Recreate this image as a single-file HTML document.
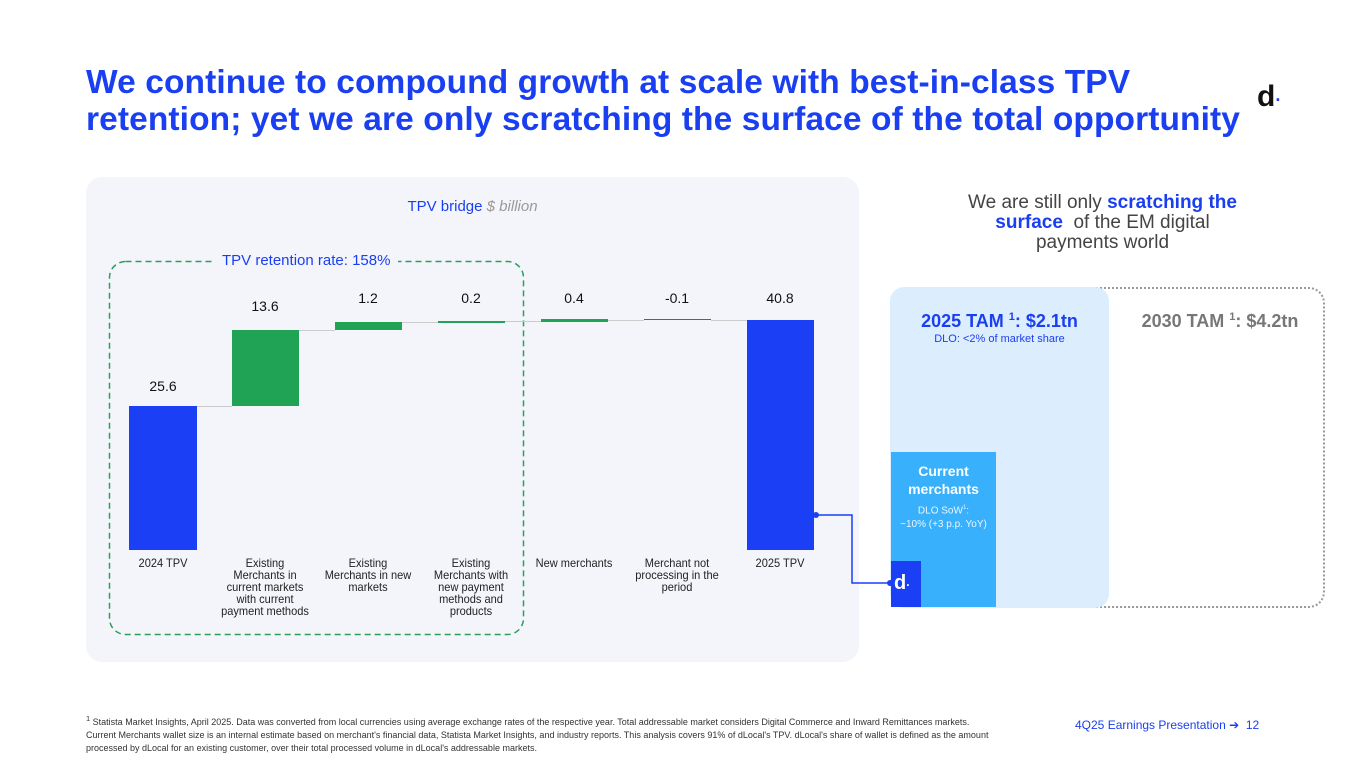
<!DOCTYPE html>
<html><head><meta charset="utf-8"><style>
*{margin:0;padding:0;box-sizing:border-box}
body{width:1365px;height:768px;background:#fff;font-family:"Liberation Sans",sans-serif;position:relative;overflow:hidden}
.a{position:absolute}
.t{color:#1a3ff0;font-size:33.5px;font-weight:bold;line-height:37px;letter-spacing:0.1px}
.lbl{font-size:12px;color:#222;text-align:center;line-height:12px;width:96px;transform:scaleX(0.92)}
.val{font-size:14px;color:#111;text-align:center;width:80px}
</style></head><body>
<div class="a t" style="left:86px;top:64px;width:1250px;white-space:nowrap">We continue to compound growth at scale with best-in-class TPV<br>retention; yet we are only scratching the surface of the total opportunity</div>
<div class="a" style="left:1257px;top:80px;font-size:30px;font-weight:bold;color:#111">d<span style="font-size:18px;color:#1a3ff0">·</span></div>

<div class="a" style="left:86px;top:177px;width:773px;height:485px;background:#f4f5fb;border-radius:16px"></div>
<div class="a" style="left:86px;top:198px;width:773px;text-align:center;font-size:15px;color:#1a3ff0">TPV bridge <i style="color:#999">$ billion</i></div>
<svg class="a" style="left:108px;top:260px" width="420" height="378"><rect x="1.5" y="1.5" width="414" height="373" rx="16" fill="none" stroke="#2ca05a" stroke-width="1.5" stroke-dasharray="6,4"/></svg>
<div class="a" style="left:214px;top:252px;background:#f4f5fb;padding:0 8px;font-size:15px;color:#1a3ff0">TPV retention rate: 158%</div>

<div class="a" style="left:129px;top:406px;width:68px;height:144px;background:#1a3ff5"></div>
<div class="a" style="left:232px;top:330px;width:67px;height:76px;background:#21a355"></div>
<div class="a" style="left:335px;top:322px;width:67px;height:8px;background:#21a355"></div>
<div class="a" style="left:438px;top:321px;width:67px;height:2px;background:#21a355"></div>
<div class="a" style="left:541px;top:319px;width:67px;height:3px;background:#21a355"></div>
<div class="a" style="left:644px;top:319px;width:67px;height:1px;background:#c0392b"></div>
<div class="a" style="left:747px;top:320px;width:67px;height:230px;background:#1a3ff5"></div>
<div class="a" style="left:197px;top:406px;width:35px;height:1px;background:#ccc"></div>
<div class="a" style="left:299px;top:330px;width:36px;height:1px;background:#ccc"></div>
<div class="a" style="left:402px;top:322px;width:36px;height:1px;background:#ccc"></div>
<div class="a" style="left:505px;top:321px;width:36px;height:1px;background:#ccc"></div>
<div class="a" style="left:608px;top:320px;width:36px;height:1px;background:#ccc"></div>
<div class="a" style="left:711px;top:320px;width:36px;height:1px;background:#ccc"></div>

<div class="a val" style="left:123px;top:378px">25.6</div>
<div class="a val" style="left:225px;top:298px">13.6</div>
<div class="a val" style="left:328px;top:290px">1.2</div>
<div class="a val" style="left:431px;top:290px">0.2</div>
<div class="a val" style="left:534px;top:290px">0.4</div>
<div class="a val" style="left:637px;top:290px">-0.1</div>
<div class="a val" style="left:740px;top:290px">40.8</div>

<div class="a lbl" style="left:115px;top:557px">2024 TPV</div>
<div class="a lbl" style="left:217px;top:557px">Existing Merchants in current markets with current payment methods</div>
<div class="a lbl" style="left:320px;top:557px">Existing Merchants in new markets</div>
<div class="a lbl" style="left:426px;top:557px;width:90px">Existing Merchants with new payment methods and products</div>
<div class="a lbl" style="left:526px;top:557px">New merchants</div>
<div class="a lbl" style="left:629px;top:557px">Merchant not processing in the period</div>
<div class="a lbl" style="left:732px;top:557px">2025 TPV</div>

<div class="a" style="left:955px;top:193px;width:295px;text-align:center;font-size:19px;line-height:20px;color:#444">We are still only <b style="color:#1a3ff0">scratching the surface</b>&nbsp; of the EM digital payments world</div>
<div class="a" style="left:1000px;top:287px;width:325px;height:321px;border:2px dotted #999;border-left:none;border-radius:0 16px 16px 0"></div>
<div class="a" style="left:890px;top:287px;width:219px;height:321px;background:#dcedfd;border-radius:14px"></div>
<div class="a" style="left:890px;top:311px;width:219px;text-align:center;font-size:18px;font-weight:bold;color:#1a3ff0">2025 TAM <sup style="font-size:11px">1</sup>: $2.1tn</div>
<div class="a" style="left:890px;top:333px;width:219px;text-align:center;font-size:11px;color:#1a3ff0">DLO: &lt;2% of market share</div>
<div class="a" style="left:1120px;top:311px;width:200px;text-align:center;font-size:18px;font-weight:bold;color:#777">2030 TAM <sup style="font-size:11px">1</sup>: $4.2tn</div>
<div class="a" style="left:891px;top:452px;width:105px;height:155px;background:#38b0fb"></div>
<div class="a" style="left:891px;top:462px;width:105px;text-align:center;color:#fff;font-size:14px;font-weight:bold;line-height:18px">Current merchants</div>
<div class="a" style="left:891px;top:501px;width:105px;text-align:center;color:#eaf6ff;font-size:10px;line-height:14px">DLO SoW<sup style="font-size:6px">1</sup>:<br>~10% (+3 p.p. YoY)</div>
<div class="a" style="left:891px;top:561px;width:30px;height:46px;background:#1a3ff5;color:#fff;font-weight:bold;font-size:20px;padding:11px 0 0 3px">d<span style="font-size:12px">·</span></div>
<svg class="a" style="left:810px;top:508px" width="90" height="85"><polyline points="6,7 42,7 42,75 82,75" fill="none" stroke="#1a3ff5" stroke-width="1.5"/><circle cx="6" cy="7" r="3" fill="#1a3ff5"/><circle cx="80" cy="75" r="3" fill="#1a3ff5"/></svg>

<div class="a" style="left:86px;top:712px;width:980px;font-size:9px;line-height:13px;color:#333;white-space:nowrap"><sup>1</sup> Statista Market Insights, April 2025. Data was converted from local currencies using average exchange rates of the respective year. Total addressable market considers Digital Commerce and Inward Remittances markets.<br>Current Merchants wallet size is an internal estimate based on merchant's financial data, Statista Market Insights, and industry reports. This analysis covers 91% of dLocal's TPV. dLocal's share of wallet is defined as the amount<br>processed by dLocal for an existing customer, over their total processed volume in dLocal's addressable markets.</div>
<div class="a" style="left:1075px;top:718px;font-size:12px;color:#1a3ff0">4Q25 Earnings Presentation ➔ &nbsp;12</div>
</body></html>
